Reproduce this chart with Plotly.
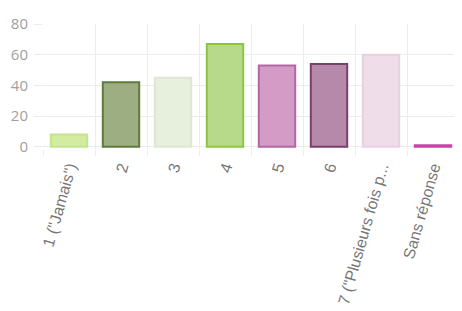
import plotly.graph_objects as go

categories = ['1 ("Jamais")', "2", "3", "4", "5", "6", '7 ("Plusieurs fois p...', "Sans réponse"]
values = [8, 42, 45, 67, 53, 54, 60, 1]
y_ticks = [0, 20, 40, 60, 80]

fill_colors = ["#d3eca2", "#9dae83", "#e7efdd", "#b7d98a", "#d59bc7", "#b489a9", "#efdde9", "#cc40a8"]
line_colors = ["#c4e48c", "#5f7b3b", "#dde7d1", "#8dc540", "#b566a5", "#7b3f6d", "#e9d0e1", "#cc40a8"]

# the page body keeps its default 8px margin, so the figure is placed 8px in
W, H = 462, 311
ml, mt = 35, 16
pw, ph = 416, 125
mr = W - ml - pw
mb = H - mt - ph

fig = go.Figure(go.Bar(
    x=categories, y=values,
    marker=dict(color=fill_colors, line=dict(color=line_colors, width=2)),
    width=0.7,
    hoverinfo="skip",
))

fig.update_layout(
    template="none",
    width=W, height=H,
    margin=dict(l=ml, r=mr, t=mt, b=mb, pad=0, autoexpand=False),
    paper_bgcolor="white", plot_bgcolor="white",
    showlegend=False,
    xaxis=dict(
        type="category", tickson="boundaries", automargin=False,
        showgrid=True, gridcolor="#ececec", gridwidth=1,
        ticks="outside", ticklen=6, tickcolor="#ececec",
        tickangle=-74, ticklabelstandoff=5,
        tickfont=dict(family="Liberation Sans, Arial", size=16, color="#777777"),
        showline=False, zeroline=False,
    ),
    yaxis=dict(
        range=[-1.5, 80], tickvals=y_ticks, automargin=False,
        showgrid=True, gridcolor="#ececec", gridwidth=1,
        ticks="outside", ticklen=8, tickcolor="#ececec",
        tickfont=dict(family="Open Sans, Liberation Sans", size=15, color="#a0a0a0"),
        ticklabelstandoff=3,
        showline=False, zeroline=False,
    ),
)

fig.write_html("out.html")
